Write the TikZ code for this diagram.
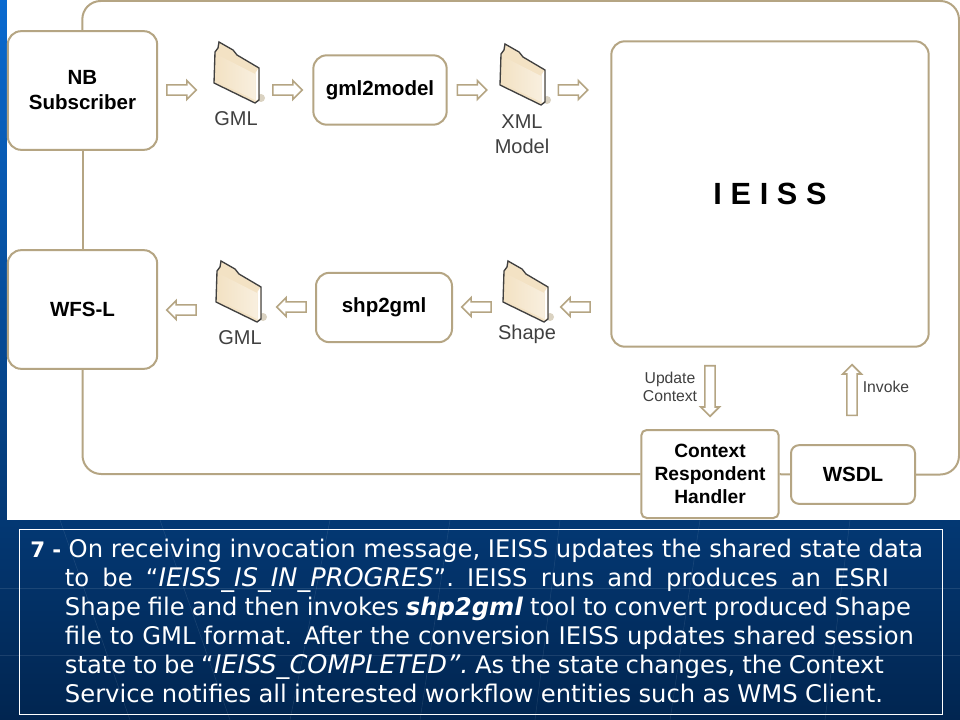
\documentclass[tikz,border=0pt]{standalone}
\usepackage{fontspec}
\setmainfont{Liberation Sans}
\newfontfamily\slidefont{DejaVu Sans}
\usetikzlibrary{shapes.arrows}
\definecolor{tan}{HTML}{B5A583}
\definecolor{slidetop}{HTML}{0A6AD0}
\definecolor{slidebottom}{HTML}{012550}
\definecolor{labelgray}{HTML}{404040}
\definecolor{cream}{HTML}{F3E2C4}
\newcommand{\capline}[2]{\makebox[#1][s]{#2}}
\newcommand{\capit}[1]{{\fontsize{19.2}{21.75}\selectfont\itshape #1}}
\tikzset{
  x=0.75pt,y=-0.75pt,
  wire/.style={draw=tan,line width=1.5pt},
  box/.style={draw=tan,line width=1.5pt,rounded corners=10pt,fill=white,font=\bfseries\fontsize{15.4}{18.75}\selectfont,align=center,inner sep=0pt},
  blockarrow/.style={single arrow,draw=tan,line width=1.2pt,fill=white,inner sep=3.2pt,minimum height=22pt,single arrow head extend=3.2pt,single arrow head indent=0pt,shape border rotate=#1},
  lbl/.style={text=labelgray,font=\fontsize{15}{18.5}\selectfont,align=center,inner sep=0pt},
  small/.style={text=labelgray,font=\fontsize{11.8}{14}\selectfont,align=center,inner sep=0pt},
  folder/.pic={
    \fill[tan!50] (25,22) circle (4);
    \draw[black!75,line width=1pt,fill=cream] (-17,-34) -- (-18,-28) -- (-21,-24) -- (-22,7) -- (19,27) -- (23,24) -- (23,-8) -- (1,-21) -- (-3,-26) -- cycle;
    \shade[left color=cream,right color=cream!55] (-20,-22) -- (19,-2) -- (19,24) -- (-20,5) -- cycle;
    \fill[white] (19.5,-3) -- (22,-7) -- (22,23) -- (19.5,25) -- cycle;
  }
}
\begin{document}
\begin{tikzpicture}
  \useasboundingbox (0,0) rectangle (960,720);
  % slide background
  \shade[top color=slidetop,bottom color=slidebottom] (0,0) rectangle (960,720);
  \foreach \xa/\xb in {60/130,160/230,330/290,450/420,560/535,700/670,850/825}
    \draw[white,opacity=.1] (\xa,520) -- (\xb,720);
  \draw[white,opacity=.1] (0,588) -- (960,588);
  \draw[white,opacity=.1] (0,655) -- (960,655);
  \fill[white] (7,0) rectangle (960,520);

  \coordinate (topleft) at (82,1);
  \coordinate (topright) at (959,1);

  \node[box,minimum width=112pt,minimum height=89pt] (nb) at (82.5,90.5) {NB\\Subscriber};
  \node[box,minimum width=112pt,minimum height=89pt] (wfs) at (82.5,309.5) {WFS-L};
  \node[box,minimum width=100pt,minimum height=52pt] (gmlmodel) at (380,90) {gml2model};
  \node[box,minimum width=102pt,minimum height=52pt] (shpgml) at (384,307.5) {shp2gml};
  \node[box,minimum width=238pt,minimum height=229pt,font=\bfseries\fontsize{23}{25}\selectfont] (ieiss) at (770,194) {I\hspace{6.5pt}E\hspace{6.5pt}I\hspace{6.5pt}S\hspace{6.5pt}S};
  \node[box,minimum width=103pt,minimum height=66pt,rounded corners=4pt,font=\bfseries\fontsize{14.4}{17.25}\selectfont] (handler) at (710,474) {Context\\Respondent\\Handler};
  \node[box,minimum width=93pt,minimum height=44pt,rounded corners=6pt] (wsdl) at (853,474.5) {WSDL};

  \draw[wire,rounded corners=14pt] (nb.north) -- (topleft) -- (topright) |- (wsdl.east);
  \draw[wire] (nb) -- (wfs);
  \draw[wire,rounded corners=14pt] (wfs.south) |- (handler.west);
  \draw[wire] (handler) -- (wsdl);

  \node[blockarrow=0] (a1) at (179,90) {};
  \node[blockarrow=0] (a2) at (285,90) {};
  \node[blockarrow=0] (a3) at (469.5,90) {};
  \node[blockarrow=0] (a4) at (570.5,90) {};
  \node[blockarrow=180] (b1) at (184,310) {};
  \node[blockarrow=180] (b2) at (294,307) {};
  \node[blockarrow=180] (b3) at (479,307) {};
  \node[blockarrow=180] (b4) at (578,307) {};
  \node[blockarrow=270,minimum height=38pt] (update) at (710,388.5) {};
  \node[blockarrow=90,minimum height=38pt] (invoke) at (852,392.5) {};

  \pic at (236,76) {folder};
  \pic at (522,78) {folder};
  \pic at (238,295) {folder};
  \pic at (525,295) {folder};

  \node[lbl] (gmla) at (236,119) {GML};
  \node[lbl] (xml) at (522,134) {XML\\Model};
  \node[lbl] (gmlb) at (240,338) {GML};
  \node[lbl] (shape) at (527,334) {Shape};
  \node[small] (updlbl) at (670,387) {Update\\Context};
  \node[small] (invlbl) at (886,387) {Invoke};

  \node[draw=white,line width=.7pt,minimum width=923*.75pt,minimum height=185*.75pt,inner sep=0pt] (frame) at (480.5,621.5) {};
  \node[anchor=north west,inner sep=0pt,text=white,align=left,font=\slidefont\fontsize{18.2}{21.75}\selectfont] (caption) at (30,539) {%
    \capline{669.75pt}{{\bfseries\fontsize{16}{21.75}\selectfont 7 - }On receiving invocation message, IEISS updates the shared state data}\\
    \hspace*{26pt}\capline{618pt}{to be “\capit{IEISS\_IS\_IN\_PROGRES}”. IEISS runs and produces an ESRI}\\
    \hspace*{26pt}\capline{634.5pt}{Shape file and then invokes \textbf{\textit{shp2gml}} tool to convert produced Shape}\\
    \hspace*{26pt}\capline{636.75pt}{file to GML format. After the conversion IEISS updates shared session}\\
    \hspace*{26pt}\capline{614.25pt}{state to be “\capit{IEISS\_COMPLETED”.} As the state changes, the Context}\\
    \hspace*{26pt}\capline{613.5pt}{Service notifies all interested workflow entities such as WMS Client.}};
\end{tikzpicture}
\end{document}
